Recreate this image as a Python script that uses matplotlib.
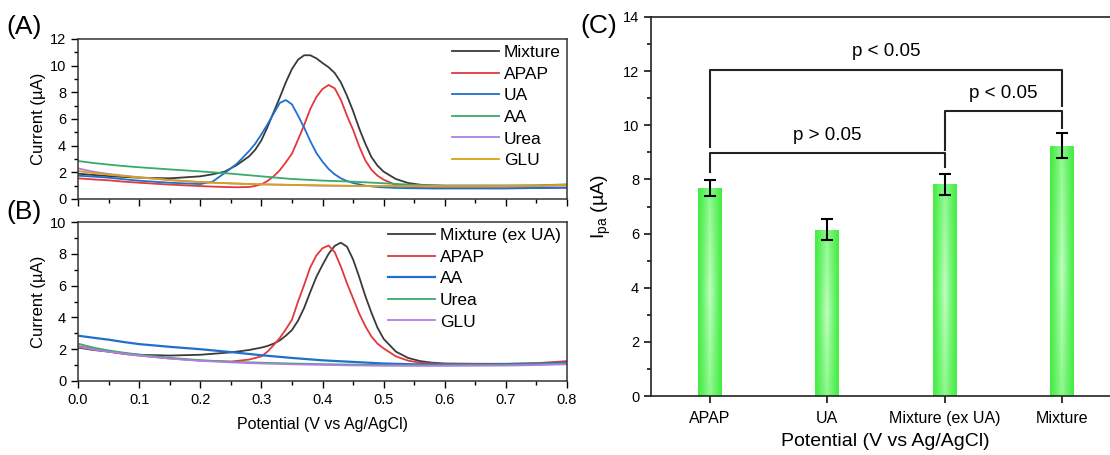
import numpy as np
import matplotlib
matplotlib.use('Agg')
import matplotlib.pyplot as plt
from matplotlib.ticker import MultipleLocator

plt.rcParams['font.family'] = ['Liberation Sans', 'DejaVu Sans']
plt.rcParams['mathtext.fontset'] = 'custom'
plt.rcParams['mathtext.rm'] = 'Liberation Sans'
plt.rcParams['mathtext.it'] = 'Liberation Sans:italic'

# ---- data ----
# fine potential grid (V) for the peak curves, coarse grid for the flat ones
v_fine_a = [0.0, 0.025, 0.05, 0.075, 0.1, 0.15, 0.2, 0.22, 0.24, 0.26, 0.28, 0.29,
            0.30, 0.31, 0.32, 0.33, 0.34, 0.35, 0.36, 0.37, 0.38, 0.39, 0.40,
            0.41, 0.42, 0.43, 0.44, 0.45, 0.46, 0.47, 0.48, 0.49, 0.50,
            0.52, 0.54, 0.56, 0.58, 0.60, 0.65, 0.70, 0.75, 0.80]
v_fine_b = [0.0, 0.025, 0.05, 0.075, 0.1, 0.15, 0.2, 0.25, 0.28,
            0.30, 0.31, 0.32, 0.33, 0.34, 0.35, 0.36, 0.37, 0.38, 0.39, 0.40,
            0.41, 0.42, 0.43, 0.44, 0.45, 0.46, 0.47, 0.48, 0.49, 0.50,
            0.52, 0.54, 0.56, 0.58, 0.60, 0.65, 0.70, 0.75, 0.80]
v_coarse = [0.0, 0.025, 0.05, 0.075, 0.1, 0.15, 0.2, 0.25, 0.3, 0.35, 0.4, 0.45,
            0.5, 0.55, 0.6, 0.65, 0.7, 0.75, 0.8]

# panel A (uA)
a_mixture = [1.90, 1.80, 1.72, 1.65, 1.60, 1.55, 1.70, 1.85, 2.05, 2.55, 3.20, 3.70,
             4.40, 5.40, 6.50, 7.60, 8.75, 9.75, 10.45, 10.78, 10.78, 10.55, 10.20,
             9.88, 9.45, 8.75, 7.75, 6.60, 5.30, 4.15, 3.15, 2.50, 2.05,
             1.50, 1.20, 1.07, 1.02, 1.00, 1.00, 1.00, 1.00, 1.05]
a_apap = [1.55, 1.47, 1.40, 1.30, 1.22, 1.08, 0.97, 0.93, 0.90, 0.88, 0.90, 0.98,
          1.10, 1.35, 1.70, 2.15, 2.75, 3.40, 4.45, 5.55, 6.75, 7.65, 8.25,
          8.55, 8.30, 7.45, 6.25, 5.20, 3.95, 2.90, 2.20, 1.75, 1.45,
          1.05, 0.88, 0.82, 0.80, 0.80, 0.80, 0.80, 0.82, 0.85]
a_ua = [1.75, 1.68, 1.60, 1.48, 1.37, 1.22, 1.12, 1.30, 1.95, 2.65, 3.60, 4.15,
        4.85, 5.60, 6.40, 7.20, 7.42, 7.10, 6.25, 5.35, 4.35, 3.45, 2.80,
        2.25, 1.85, 1.55, 1.35, 1.20, 1.10, 1.00, 0.95, 0.90, 0.87,
        0.83, 0.81, 0.80, 0.80, 0.80, 0.80, 0.80, 0.82, 0.85]
a_aa = [2.85, 2.70, 2.58, 2.47, 2.38, 2.22, 2.07, 1.90, 1.70, 1.50, 1.38, 1.30,
        1.18, 1.06, 1.00, 1.00, 1.00, 1.02, 1.10]
a_urea = [2.30, 2.05, 1.88, 1.75, 1.63, 1.42, 1.27, 1.17, 1.10, 1.05, 1.00, 0.98,
          0.96, 0.95, 0.95, 0.95, 0.96, 0.98, 1.02]
a_glu = [2.10, 1.95, 1.83, 1.72, 1.62, 1.42, 1.27, 1.17, 1.10, 1.06, 1.02, 0.99,
         0.97, 0.96, 0.96, 0.96, 0.97, 1.00, 1.06]

# panel B (uA)
b_mixture = [2.10, 1.95, 1.85, 1.73, 1.65, 1.60, 1.65, 1.80, 1.95,
             2.10, 2.20, 2.35, 2.55, 2.85, 3.20, 3.80, 4.60, 5.60, 6.55, 7.30,
             8.00, 8.50, 8.70, 8.45, 7.65, 6.55, 5.35, 4.30, 3.35, 2.65,
             1.85, 1.45, 1.25, 1.15, 1.10, 1.08, 1.08, 1.10, 1.15]
b_apap = [2.20, 2.00, 1.85, 1.70, 1.60, 1.42, 1.28, 1.22, 1.35,
          1.55, 1.85, 2.25, 2.70, 3.25, 3.85, 5.00, 6.05, 7.15, 7.90, 8.35,
          8.52, 8.10, 7.20, 6.15, 5.20, 4.25, 3.45, 2.80, 2.35, 2.05,
          1.55, 1.28, 1.15, 1.10, 1.08, 1.08, 1.08, 1.12, 1.25]
b_aa = [2.85, 2.72, 2.60, 2.45, 2.32, 2.15, 2.00, 1.82, 1.62, 1.45, 1.30, 1.20,
        1.10, 1.05, 1.04, 1.04, 1.05, 1.08, 1.15]
b_urea = [2.35, 2.10, 1.92, 1.78, 1.66, 1.46, 1.31, 1.21, 1.15, 1.10, 1.06, 1.03,
          1.01, 1.00, 1.00, 1.01, 1.02, 1.05, 1.10]
b_glu = [2.15, 1.98, 1.84, 1.72, 1.60, 1.41, 1.27, 1.17, 1.10, 1.05, 1.01, 0.98,
         0.96, 0.95, 0.95, 0.96, 0.97, 1.00, 1.05]

# panel C
bar_names = ['APAP', 'UA', 'Mixture (ex UA)', 'Mixture']
bar_ipa = [7.68, 6.15, 7.82, 9.25]
bar_err = [0.30, 0.40, 0.39, 0.46]
# (left bar, right bar, bracket height, left leg end, right leg end, label)
brackets = [(0, 2, 8.96, 8.29, 8.47, 'p > 0.05'),
            (0, 3, 12.05, 9.21, 10.70, 'p < 0.05'),
            (2, 3, 10.51, 9.09, 9.89, 'p < 0.05')]

c_black = '#3a3a3a'
c_red = '#e2383d'
c_blue = '#1f70cc'
c_green = '#3aa96c'
c_purple = '#b07ee6'
c_gold = '#d8a214'

W, H = 1110, 455
fig = plt.figure(figsize=(W / 100, H / 100), dpi=100)


def px_axes(left, top, right, bottom):
    return fig.add_axes([left / W, 1 - bottom / H, (right - left) / W, (bottom - top) / H])


def style_cv(ax, ymax):
    ax.set_xlim(0, 0.8)
    ax.set_ylim(0, ymax)
    ax.xaxis.set_major_locator(MultipleLocator(0.1))
    ax.xaxis.set_minor_locator(MultipleLocator(0.05))
    ax.yaxis.set_major_locator(MultipleLocator(2))
    ax.yaxis.set_minor_locator(MultipleLocator(1))
    ax.tick_params(which='both', direction='out', labelsize=10.5, width=1)
    ax.tick_params(which='major', length=5)
    ax.tick_params(which='minor', length=3)
    for s in ax.spines.values():
        s.set_linewidth(1.1)
        s.set_color('#333333')
    ax.set_ylabel('Current (µA)', fontsize=12, labelpad=3)
    ax.legend(loc='upper right', frameon=False, fontsize=12.5, handlelength=2.7,
              labelspacing=0.37, borderaxespad=0.05, borderpad=0.3, handletextpad=0.3)


# ---- panel A ----
ax_a = px_axes(78, 39, 567, 199)
ax_a.plot(v_fine_a, a_mixture, color=c_black, lw=1.3, label='Mixture')
ax_a.plot(v_fine_a, a_apap, color=c_red, lw=1.3, label='APAP')
ax_a.plot(v_fine_a, a_ua, color=c_blue, lw=1.3, label='UA')
ax_a.plot(v_coarse, a_aa, color=c_green, lw=1.3, label='AA')
ax_a.plot(v_coarse, a_urea, color=c_purple, lw=1.3, label='Urea')
ax_a.plot(v_coarse, a_glu, color=c_gold, lw=1.3, label='GLU')
style_cv(ax_a, 12)
ax_a.tick_params(labelbottom=False)

# ---- panel B ----
ax_b = px_axes(78, 222, 567, 381)
ax_b.plot(v_fine_b, b_mixture, color=c_black, lw=1.3, label='Mixture (ex UA)')
ax_b.plot(v_fine_b, b_apap, color=c_red, lw=1.3, label='APAP')
ax_b.plot(v_coarse, b_aa, color=c_blue, lw=1.6, label='AA')
ax_b.plot(v_coarse, b_urea, color=c_green, lw=1.3, label='Urea')
ax_b.plot(v_coarse, b_glu, color=c_purple, lw=1.3, label='GLU')
style_cv(ax_b, 10)
ax_b.set_xlabel('Potential (V vs Ag/AgCl)', fontsize=11.5, labelpad=7)

# ---- panel C ----
ax_c = px_axes(651, 17, 651 + 469.6, 396)
xpos = np.arange(len(bar_names))
bars = ax_c.bar(xpos, bar_ipa, width=0.2, color='#4cef4c', zorder=2)

# light stripe down the middle of every bar
u = np.linspace(0, 1, 40)
w = np.linspace(0, 1, 120)
uu, ww = np.meshgrid(u, w)
f = (1 - np.abs(2 * uu - 1)) ** 1.2 * (0.6 + 0.4 * (1 - np.abs(2 * ww - 1)))
edge = np.array([0.27, 0.93, 0.27])
light = np.array([0.76, 1.0, 0.76])
grad = edge + (light - edge) * f[..., None]
for rect in bars:
    x0, h = rect.get_x(), rect.get_height()
    im = ax_c.imshow(grad, extent=[x0, x0 + rect.get_width(), 0, h], aspect='auto',
                     origin='lower', zorder=2.5)
    im.set_clip_path(rect)

ax_c.errorbar(xpos, bar_ipa, yerr=bar_err, fmt='none', ecolor='black', elinewidth=1.5,
              capsize=4, capthick=1.5, zorder=3)

for i, j, yb, yl, yr, txt in brackets:
    ax_c.plot([i, i, j, j], [yl, yb, yb, yr], color='#222222', lw=1.5, zorder=3)
    ax_c.text((i + j) / 2, yb + 0.35, txt, ha='center', va='bottom', fontsize=13.5)

ax_c.set_xlim(-0.5, 3.5)
ax_c.set_ylim(0, 14)
ax_c.set_xticks(xpos)
ax_c.set_xticklabels(bar_names)
ax_c.yaxis.set_major_locator(MultipleLocator(2))
ax_c.yaxis.set_minor_locator(MultipleLocator(1))
ax_c.tick_params(axis='x', labelsize=11.5, length=5, width=1.1, pad=6)
ax_c.tick_params(axis='y', which='major', labelsize=10.5, length=5, width=1.1)
ax_c.tick_params(axis='y', which='minor', length=3, width=1.1)
for s in ax_c.spines.values():
    s.set_linewidth(1.2)
    s.set_color('#222222')
ax_c.set_ylabel('I$_{\\mathrm{pa}}$ (µA)', fontsize=14, labelpad=7)
ax_c.set_xlabel('Potential (V vs Ag/AgCl)', fontsize=14, labelpad=5)

# panel letters
fig.text(6 / W, 1 - 27 / H, '(A)', fontsize=19, va='center', ha='left')
fig.text(6 / W, 1 - 212 / H, '(B)', fontsize=19, va='center', ha='left')
fig.text(580 / W, 1 - 26 / H, '(C)', fontsize=19, va='center', ha='left')

fig.savefig('out.png', dpi=100)
